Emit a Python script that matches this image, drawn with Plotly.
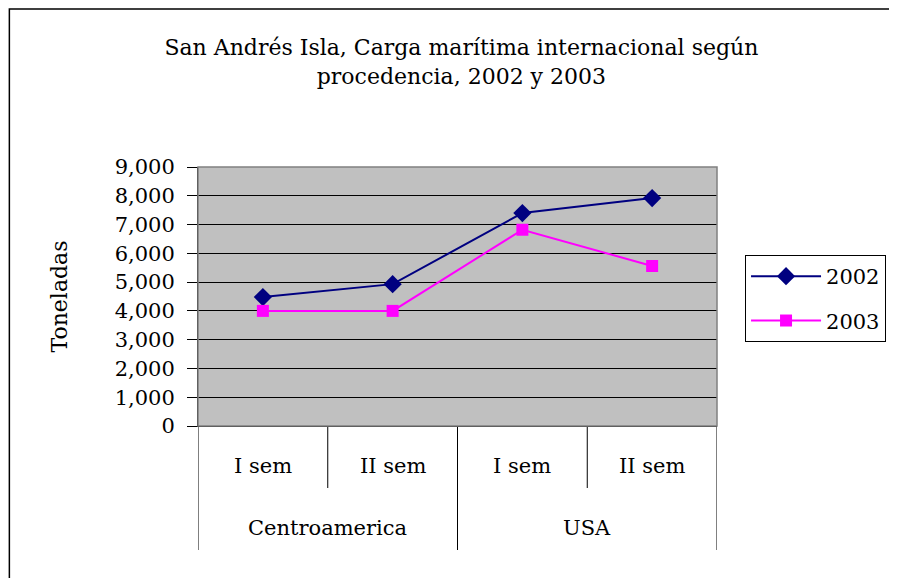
import plotly.graph_objects as go

regions = ["Centroamerica", "USA"]
semesters = ["I sem", "II sem", "I sem", "II sem"]
x_pos = [0, 1, 2, 3]
y2002 = [4480, 4930, 7400, 7920]
y2003 = [4000, 4000, 6820, 5560]
yticks = [0, 1000, 2000, 3000, 4000, 5000, 6000, 7000, 8000, 9000]

font = "DejaVu Serif"
# page body keeps an 8px margin, so the figure is sized to fit inside it
W, H = 889, 570
L, R, T, B = 190, 179, 159, 152
ph = H - T - B  # plot height in px

fig = go.Figure()

# 2002 series
fig.add_trace(go.Scatter(x=x_pos, y=y2002, name="2002", mode="lines+markers",
                         line={'color': '#000080', 'width': 2},
                         marker={'symbol': 'diamond', 'size': 14, 'color': '#000080'},
                         legendgroup="a"))

# 2003 series
fig.add_trace(go.Scatter(x=x_pos, y=y2003, name="2003", mode="lines+markers",
                         line={'color': '#FF00FF', 'width': 2},
                         marker={'symbol': 'square', 'size': 12, 'color': '#FF00FF'},
                         legendgroup="b"))

fig.update_layout(
    width=W, height=H,
    margin={'l': L, 'r': R, 't': T, 'b': B},
    paper_bgcolor='white', plot_bgcolor='#C0C0C0',
    font={'family': font, 'size': 21, 'color': 'black'},
    title={'text': "San Andrés Isla, Carga marítima internacional según<br>procedencia, 2002 y 2003",
           'x': 0.51, 'xanchor': 'center', 'y': 1 - 47 / H, 'yanchor': 'middle',
           'font': {'family': font, 'size': 22}},
    legend={'x': 1.052, 'xanchor': 'left', 'y': 0.66, 'yanchor': 'top',
            'bordercolor': 'black', 'borderwidth': 1, 'bgcolor': 'white',
            'tracegroupgap': 14, 'font': {'size': 21}, 'itemwidth': 70},
    showlegend=True,
)

fig.update_yaxes(range=[0, 9000], tickvals=yticks, tickformat=",d",
                 showgrid=True, gridcolor='black', gridwidth=1,
                 showline=True, linecolor='black', ticks='outside', ticklen=10, tickcolor='black',
                 ticklabelstandoff=8,
                 title={'text': 'Toneladas', 'standoff': 40, 'font': {'size': 22}}, zeroline=False)

fig.update_xaxes(range=[-0.5, 3.5], showgrid=False, showticklabels=False, ticks='',
                 showline=True, linecolor='black', zeroline=False)

# category labels: semesters on first row, regions on second
for i, s in enumerate(semesters):
    fig.add_annotation(x=x_pos[i], y=-40 / ph, xref='x', yref='paper', text=s,
                       showarrow=False, yanchor='middle', font={'size': 21})
for j, r in enumerate(regions):
    fig.add_annotation(x=2 * j + 0.5, y=-102 / ph, xref='x', yref='paper', text=r,
                       showarrow=False, yanchor='middle', font={'size': 21})

# separators between categories
for k in range(5):
    depth = 124 if k % 2 == 0 else 62
    fig.add_shape(type='line', xref='x', yref='paper', x0=k - 0.5, x1=k - 0.5,
                  y0=0, y1=-depth / ph, line={'color': 'black', 'width': 1})

# outer frame of the chart
fig.add_shape(type='rect', xref='paper', yref='paper',
              x0=(1 - L) / 520, x1=(W + 5 - L) / 520, y0=(T + ph - H - 5) / ph, y1=(T + ph - 1) / ph,
              line={'color': 'black', 'width': 1.5}, fillcolor='rgba(0,0,0,0)', layer='below')
# plot area border
fig.add_shape(type='rect', xref='paper', yref='paper', x0=0, x1=1, y0=0, y1=1,
              line={'color': '#808080', 'width': 1.5})

fig.write_html("out.html")
